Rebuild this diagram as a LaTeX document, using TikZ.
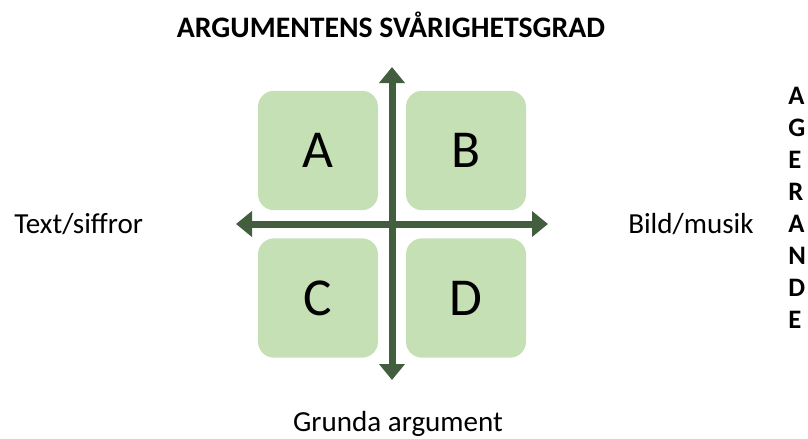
\documentclass[tikz,border=0pt]{standalone}
\usepackage{fontspec}
\setmainfont{Carlito}
\usepackage{tikz}
\usetikzlibrary{calc}
\usetikzlibrary{arrows.meta}
\definecolor{boxgreen}{HTML}{C5E0B4}
\definecolor{axisgreen}{HTML}{435E3F}

\begin{document}
\begin{tikzpicture}[x = 0.75pt, y = -0.75pt]

\tikzstyle{box_q}=[rectangle, rounded corners = 12pt, fill=boxgreen, minimum width = 90pt, minimum height = 89.5pt, inner sep = 0pt, font = \fontsize{40}{40}\selectfont]
\tikzstyle{label_s}=[inner sep = 0pt, anchor = base, font = \fontsize{21.8}{24}\selectfont]
\tikzstyle{label_b}=[inner sep = 0pt, anchor = base west, font = \fontsize{20}{22}\selectfont\bfseries]

\useasboundingbox (0, 0) rectangle (808, 439);

\coordinate (O) at (392, 224);
\coordinate (N) at (392, 67);
\coordinate (S) at (392, 380);
\coordinate (W) at (236, 224);
\coordinate (E) at (548, 224);
\coordinate (V) at (788, 104);

\path
($(O) + (-74, -73.5)$) node[box_q](qa) {A}
($(O) + (74, -73.5)$) node[box_q](qb) {B}
($(O) + (-74, 74)$) node[box_q](qc) {C}
($(O) + (74, 74)$) node[box_q](qd) {D};

\path
(391, 37) node[label_s, font = \fontsize{22.3}{24}\selectfont\bfseries](title) {ARGUMENTENS SVÅRIGHETSGRAD}
(14, 233) node[label_s, anchor = base west](text) {Text/siffror}
(628, 233) node[label_s, anchor = base west](bild) {Bild/musik}
(398, 431) node[label_s](grunda) {Grunda argument};

\path
($(V) + (0, 0)$) node[label_b](v1) {A}
($(V) + (0, 32)$) node[label_b](v2) {G}
($(V) + (0, 64)$) node[label_b](v3) {E}
($(V) + (0, 96)$) node[label_b](v4) {R}
($(V) + (0, 128)$) node[label_b](v5) {A}
($(V) + (0, 160)$) node[label_b](v6) {N}
($(V) + (0, 192)$) node[label_b](v7) {D}
($(V) + (0, 224)$) node[label_b](v8) {E};

% axes
\draw[{Triangle[width = 18.75pt, length = 12pt]}-{Triangle[width = 18.75pt, length = 12pt]}, line width = 5.25pt, color = axisgreen] (S) to (N);
\draw[{Triangle[width = 18.75pt, length = 12pt]}-{Triangle[width = 18.75pt, length = 12pt]}, line width = 5.25pt, color = axisgreen] (W) to (E);

\end{tikzpicture}
\end{document}
